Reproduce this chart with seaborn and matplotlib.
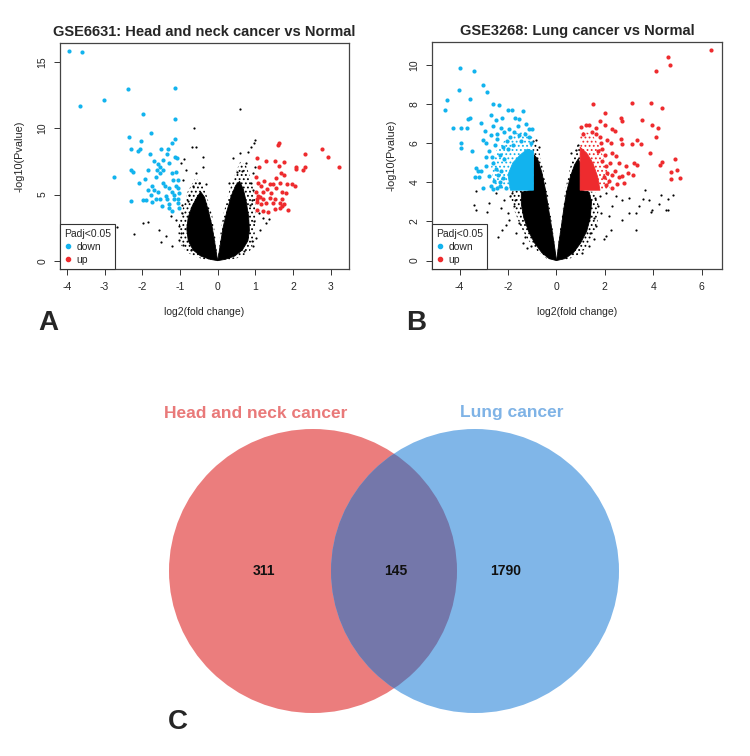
import numpy as np
import pandas as pd
import matplotlib
matplotlib.use("Agg")
import matplotlib.pyplot as plt
import seaborn as sns
from matplotlib.patches import Ellipse
from matplotlib.lines import Line2D

# ---- panel A: GSE6631 ----
a_down = [(-3.93, 15.87), (-3.61, 15.77), (-3.64, 11.70), (-3.01, 12.18), (-2.38, 12.98),
          (-1.13, 13.08), (-1.99, 11.09), (-1.13, 10.74), (-1.77, 9.69), (-2.35, 9.36),
          (-1.14, 9.18), (-2.03, 9.08), (-1.21, 8.88), (-1.33, 8.48), (-2.30, 8.48),
          (-2.05, 8.48), (-2.10, 8.28), (-1.51, 8.43), (-1.34, 8.08), (-1.80, 8.03),
          (-1.13, 7.87), (-1.08, 7.77), (-1.68, 7.52), (-1.57, 7.32), (-1.46, 7.62),
          (-1.29, 7.37), (-1.52, 7.12), (-1.86, 6.87), (-1.62, 6.82), (-1.45, 6.82),
          (-2.30, 6.82), (-2.24, 6.72), (-1.21, 6.62), (-1.11, 6.74), (-2.76, 6.31),
          (-1.64, 6.36), (-1.52, 6.62), (-1.92, 6.21), (-1.18, 6.11), (-1.05, 6.11),
          (-2.08, 5.86), (-1.44, 5.91), (-1.73, 5.61), (-1.39, 5.61), (-1.84, 5.36),
          (-1.68, 5.31), (-1.29, 5.46), (-1.11, 5.61), (-1.04, 5.46), (-1.59, 5.16),
          (-1.20, 5.16), (-1.77, 4.98), (-1.37, 4.91), (-1.15, 4.96), (-1.02, 5.11),
          (-1.99, 4.60), (-1.91, 4.60), (-1.64, 4.65), (-1.52, 4.65), (-2.31, 4.50),
          (-1.34, 4.70), (-1.15, 4.70), (-1.04, 4.70), (-1.73, 4.40), (-1.29, 4.30),
          (-1.06, 4.35), (-1.48, 4.10), (-1.29, 3.95), (-1.22, 3.75), (-1.02, 3.97)]
a_up = [(3.21, 7.12), (2.93, 7.82), (2.76, 8.45), (2.31, 8.10), (2.32, 7.12), (2.26, 6.82),
        (2.07, 7.07), (2.08, 6.92), (1.60, 8.78), (1.62, 8.88), (1.05, 7.75), (1.29, 7.57),
        (1.51, 7.50), (1.75, 7.47), (1.62, 7.17), (1.10, 7.12), (1.69, 6.62), (1.77, 6.47),
        (1.02, 6.31), (1.55, 6.24), (1.24, 5.99), (1.06, 5.86), (1.39, 5.81), (1.46, 5.81),
        (1.66, 5.86), (1.84, 5.81), (1.96, 5.81), (2.05, 5.61), (1.15, 5.61), (1.30, 5.41),
        (1.55, 5.48), (1.02, 5.16), (1.20, 5.16), (1.42, 5.11), (1.70, 5.16), (1.82, 5.11),
        (1.06, 4.91), (1.12, 4.80), (1.05, 4.70), (1.20, 4.65), (1.39, 4.73), (1.53, 4.65),
        (1.71, 4.70), (1.04, 4.40), (1.14, 4.30), (1.29, 4.35), (1.46, 4.35), (1.66, 4.35),
        (1.77, 4.30), (1.53, 3.90), (1.66, 3.95), (1.87, 3.85), (1.04, 3.85), (1.20, 3.75),
        (1.33, 3.70), (1.71, 4.10)]
a_ns = [(0.58, 11.45), (-0.64, 10.01), (-0.68, 8.63), (-0.58, 8.63), (0.98, 9.13),
        (0.95, 8.88), (0.89, 8.63), (0.80, 8.25), (0.58, 8.13), (0.40, 7.75), (-0.40, 7.87),
        (-0.89, 7.67), (-0.98, 7.37), (-0.40, 7.12), (0.75, 7.37), (0.98, 7.12), (-0.84, 6.87),
        (-0.58, 6.62), (0.93, 6.62), (-0.91, 6.11), (-0.66, 5.61), (1.09, 3.60), (1.20, 3.22),
        (1.37, 3.14), (1.29, 2.84), (-1.99, 2.84), (-1.84, 2.89), (-2.66, 2.52), (-2.22, 2.01),
        (-1.55, 2.34), (-1.37, 1.84), (-1.49, 1.38), (-1.20, 1.08), (-1.02, 1.58), (-1.24, 3.35),
        (-1.11, 3.09), (0.93, 1.08), (1.02, 1.71), (1.11, 2.34), (-1.02, 2.59), (-0.95, 3.60),
        (0.91, 4.60), (0.93, 5.36), (0.89, 5.86), (-0.75, 5.0), (-0.8, 4.5), (-0.95, 4.2),
        (-0.98, 2.1), (-0.92, 1.2), (-0.7, 0.8), (0.95, 3.0), (0.9, 1.5), (0.7, 0.7),
        (0.65, 6.8), (0.5, 6.7), (-0.5, 5.9), (-0.3, 5.8), (0.3, 5.9), (0.85, 4.2)]
# outline of the dense cloud of non-significant genes: solid core and speckled fringe
a_core = [[(0, 0), (-0.2, 0.1), (-0.45, 0.35), (-0.65, 0.8), (-0.78, 1.5), (-0.82, 2.4),
           (-0.78, 3.3), (-0.68, 4.1), (-0.55, 4.8), (-0.45, 5.2), (-0.35, 4.8), (-0.25, 3.8),
           (-0.15, 2.6), (-0.08, 1.4), (-0.03, 0.5)],
          [(0, 0), (0.03, 0.5), (0.08, 1.4), (0.15, 2.6), (0.25, 3.8), (0.36, 4.9), (0.48, 5.7),
           (0.58, 6.0), (0.68, 5.4), (0.76, 4.4), (0.82, 3.3), (0.84, 2.3), (0.8, 1.5),
           (0.65, 0.8), (0.45, 0.35), (0.2, 0.1)]]
a_fringe = [[(0, 0), (-0.3, 0.05), (-0.6, 0.3), (-0.85, 0.7), (-1.0, 1.3), (-1.05, 2.2),
             (-1.0, 3.2), (-0.9, 4.2), (-0.8, 5.2), (-0.6, 6.2), (-0.45, 6.0), (-0.3, 5.0),
             (-0.15, 3.5), (-0.06, 1.8), (-0.02, 0.5)],
            [(0, 0), (0.02, 0.5), (0.06, 1.8), (0.15, 3.5), (0.3, 5.2), (0.45, 6.5), (0.6, 7.5),
             (0.75, 7.2), (0.9, 6.0), (1.0, 4.5), (1.0, 2.8), (0.97, 1.5), (0.85, 0.7),
             (0.6, 0.25), (0.3, 0.05)]]

# ---- panel B: GSE3268 ----
b_down = [(-4.61, 7.68), (-4.53, 8.21), (-4.04, 8.75), (-4.00, 9.83), (-3.40, 9.69),
          (-4.29, 6.79), (-3.95, 6.79), (-3.71, 6.79), (-3.58, 7.27), (-3.66, 7.22),
          (-3.56, 8.24), (-3.03, 8.98), (-2.86, 8.62), (-3.93, 6.02), (-3.95, 5.77),
          (-3.47, 5.60), (-3.33, 4.74), (-3.26, 4.57), (-3.36, 4.28), (-3.19, 4.28),
          (-3.03, 3.72), (-3.12, 7.05), (-2.94, 6.62), (-2.64, 8.02), (-2.39, 7.94),
          (-2.71, 7.47), (-2.50, 7.18), (-2.02, 7.70), (-1.84, 7.70), (-1.38, 7.63),
          (-1.54, 7.25), (-2.26, 7.30), (-1.95, 6.71), (-1.13, 6.74), (-0.99, 6.74),
          (-3.03, 6.19), (-2.92, 6.02), (-2.92, 4.83), (-2.78, 4.32), (-2.71, 3.81),
          (-2.57, 4.06), (-2.34, 4.01), (-2.34, 3.81), (-2.6, 6.9), (-2.45, 6.5),
          (-2.3, 6.8), (-2.15, 6.6), (-1.75, 6.6), (-1.6, 6.9), (-1.25, 7.0), (-1.7, 7.3),
          (-2.8, 5.6), (-2.65, 5.3), (-2.55, 5.9), (-2.45, 6.2), (-2.35, 5.4), (-2.2, 5.8),
          (-2.05, 6.1), (-1.9, 6.3), (-1.55, 6.4), (-1.3, 6.5), (-1.15, 6.3), (-2.5, 4.7),
          (-2.4, 4.4), (-2.6, 5.0), (-3.1, 4.6), (-2.9, 5.3), (-2.7, 6.4), (-1.8, 5.9),
          (-2.1, 3.7), (-2.2, 4.2), (-2.45, 3.7), (-2.6, 3.65), (-2.3, 4.6), (-2.15, 5.2),
          (-1.05, 6.0), (-1.45, 6.1), (-2.0, 5.7)]
b_up = [(6.40, 10.77), (4.61, 10.43), (4.10, 9.69), (4.68, 9.98), (1.53, 8.02), (3.89, 8.07),
        (3.11, 8.07), (4.37, 7.78), (2.01, 7.56), (1.79, 7.13), (3.55, 7.18), (2.65, 7.30),
        (2.70, 7.13), (3.93, 6.91), (4.18, 6.79), (2.28, 6.71), (2.42, 6.62), (1.00, 6.84),
        (1.24, 6.96), (1.35, 6.96), (1.62, 6.79), (2.01, 6.91), (2.65, 6.23), (4.12, 6.33),
        (2.70, 5.94), (3.14, 5.94), (3.34, 6.19), (3.51, 5.94), (3.88, 5.51), (2.31, 5.51),
        (2.45, 5.34), (3.22, 5.00), (3.34, 4.88), (4.26, 4.91), (4.37, 5.03), (4.90, 5.20),
        (4.97, 4.62), (4.73, 4.52), (5.09, 4.23), (4.73, 4.15), (2.97, 4.49), (3.16, 4.40),
        (2.70, 4.32), (2.89, 4.86), (2.59, 4.97), (2.79, 3.98), (2.17, 4.06), (2.06, 3.89),
        (2.31, 4.40), (2.04, 4.83), (1.90, 5.09), (2.24, 6.02), (2.10, 6.19), (1.8, 6.3),
        (1.65, 6.5), (1.45, 6.6), (1.9, 5.7), (2.0, 5.4), (2.2, 5.0), (2.4, 4.6), (2.5, 3.9),
        (2.3, 3.7), (1.85, 6.0), (1.7, 5.6), (1.1, 6.5), (2.6, 4.3), (2.1, 4.5), (1.95, 4.3)]
b_ns = [(-0.96, 6.11), (-3.33, 3.55), (-3.40, 2.82), (-3.33, 2.61), (-2.78, 2.95),
        (-2.85, 2.47), (-2.42, 1.21), (-2.23, 1.59), (-2.02, 2.44), (-2.16, 3.12),
        (-1.95, 2.10), (-1.68, 1.42), (-1.40, 0.90), (-1.20, 0.65), (-1.06, 0.73),
        (-2.50, 3.46), (-1.82, 3.46), (-0.85, 6.19), (0.80, 5.68), (2.04, 3.46), (2.45, 3.29),
        (2.72, 3.12), (3.00, 3.21), (3.27, 2.44), (3.41, 2.78), (3.66, 3.63), (3.59, 3.16),
        (3.82, 3.12), (3.96, 2.61), (4.24, 2.87), (4.31, 3.38), (4.62, 3.17), (4.83, 3.36),
        (4.51, 2.61), (4.59, 2.58), (3.91, 2.47), (3.27, 1.55), (2.24, 1.59), (2.04, 1.25),
        (1.97, 1.08), (2.17, 2.27), (1.83, 2.44), (1.62, 1.76), (1.55, 1.08), (2.72, 2.10),
        (3.00, 2.44), (1.35, 0.73), (1.07, 0.39), (-1.9, 3.3), (-1.75, 2.8), (-1.7, 3.1),
        (-1.55, 1.9), (-1.3, 1.2), (1.6, 3.2), (1.7, 2.8), (1.55, 2.2), (1.4, 1.4),
        (1.8, 3.3), (2.3, 2.8), (-2.3, 2.7), (-2.1, 1.8), (0.9, 5.9), (0.6, 5.5), (-0.7, 5.8)]
b_core = [[(0, 0), (-0.3, 0.1), (-0.6, 0.4), (-0.9, 0.9), (-1.15, 1.5), (-1.35, 2.2),
           (-1.45, 2.9), (-1.45, 3.5), (-1.0, 3.6), (-0.95, 4.6), (-0.92, 5.4), (-0.78, 5.2),
           (-0.6, 4.5), (-0.45, 3.6), (-0.32, 2.6), (-0.2, 1.7), (-0.1, 0.9), (-0.03, 0.3)],
          [(0, 0), (0.04, 0.3), (0.1, 0.9), (0.2, 1.7), (0.3, 2.6), (0.42, 3.5), (0.58, 4.3),
           (0.75, 4.9), (0.9, 5.2), (0.98, 5.0), (0.98, 3.6), (1.35, 3.5), (1.45, 3.0),
           (1.4, 2.2), (1.25, 1.5), (1.0, 0.9), (0.7, 0.4), (0.35, 0.1)]]
b_fringe = [[(0, 0), (-0.4, 0.1), (-0.8, 0.5), (-1.2, 1.1), (-1.5, 1.8), (-1.75, 2.6),
             (-1.9, 3.3), (-1.8, 3.6), (-1.0, 3.6), (-0.98, 6.0), (-0.8, 6.0), (-0.6, 5.0),
             (-0.4, 3.8), (-0.25, 2.5), (-0.12, 1.3), (-0.03, 0.4)],
            [(0, 0), (0.03, 0.4), (0.12, 1.3), (0.25, 2.5), (0.38, 3.7), (0.55, 4.7),
             (0.75, 5.5), (0.9, 6.0), (0.98, 5.8), (0.98, 3.6), (1.6, 3.5), (1.75, 2.8),
             (1.7, 2.0), (1.5, 1.2), (1.2, 0.6), (0.8, 0.2), (0.4, 0.05)]]
b_down_core = [(-1.9, 3.6), (-0.95, 3.6), (-0.95, 5.6), (-1.2, 5.7), (-1.5, 5.4),
               (-1.8, 5.0), (-2.0, 4.4)]
b_down_fringe = [(-2.4, 3.6), (-0.95, 3.6), (-0.95, 6.3), (-1.3, 6.6), (-1.7, 6.5),
                 (-2.1, 6.2), (-2.5, 5.6), (-2.7, 4.8), (-2.6, 4.0)]
b_up_core = [(0.98, 3.6), (1.8, 3.6), (1.7, 4.3), (1.5, 5.0), (1.25, 5.5), (0.98, 5.8)]
b_up_fringe = [(0.98, 3.6), (2.2, 3.6), (2.2, 4.2), (2.0, 5.0), (1.8, 5.8), (1.5, 6.4),
               (1.2, 6.6), (0.98, 6.6)]

# ---- panel C: Venn ----
venn_sets = ["Head and neck cancer", "Lung cancer"]
venn_counts = [311, 145, 1790]   # only HNC, both, only lung

BLUE = "#12B3EE"
RED = "#EE2B2E"


def to_df(points):
    return pd.DataFrame(points, columns=["lfc", "logp"])


def fill_poly(ax, poly, col, speckled, z):
    xs, ys = zip(*poly)
    if speckled:
        ax.fill(xs, ys, facecolor="none", edgecolor=col, hatch="....", lw=0, zorder=z)
    else:
        ax.fill(xs, ys, color=col, lw=0.6, zorder=z)


def volcano(ax, title, down, up, ns, core, fringe, col_polys, xticks, yticks, xlim, ylim):
    for poly in fringe:
        fill_poly(ax, poly, "black", True, 2)
    for poly in core:
        fill_poly(ax, poly, "black", False, 2)
    sns.scatterplot(data=to_df(ns), x="lfc", y="logp", color="black", s=2.5,
                    linewidth=0, ax=ax, zorder=3, legend=False)
    for poly, col, speckled in col_polys:
        fill_poly(ax, poly, col, speckled, 4)
    sns.scatterplot(data=to_df(down), x="lfc", y="logp", color=BLUE, s=9,
                    linewidth=0, ax=ax, zorder=5, legend=False)
    sns.scatterplot(data=to_df(up), x="lfc", y="logp", color=RED, s=9,
                    linewidth=0, ax=ax, zorder=5, legend=False)
    ax.set_xlim(*xlim)
    ax.set_ylim(*ylim)
    ax.set_xticks(xticks)
    ax.set_yticks(yticks)
    ax.set_xticklabels([str(t) for t in xticks], fontsize=7.5)
    ax.set_yticklabels([str(t) for t in yticks], fontsize=7.5, rotation=90, va="center")
    ax.tick_params(axis="both", direction="out", length=4, width=0.7, pad=5,
                   left=True, bottom=True, color="#333333")
    for sp in ax.spines.values():
        sp.set_visible(True)
        sp.set_color("#444444")
        sp.set_linewidth(0.9)
    ax.set_xlabel("log2(fold change)", fontsize=7.5, labelpad=11)
    ax.set_ylabel("-log10(Pvalue)", fontsize=7.8, labelpad=9)
    ax.set_title(title, fontsize=10.5, fontweight="bold", pad=5)
    handles = [Line2D([], [], ls="", marker="o", ms=3, color=BLUE),
               Line2D([], [], ls="", marker="o", ms=3, color=RED)]
    leg = ax.legend(handles, ["down", "up"], title="Padj<0.05", loc="lower left",
                    borderaxespad=0, fancybox=False, edgecolor="#333333", framealpha=1,
                    fontsize=7.5, title_fontsize=7.5, handlelength=0.8, handletextpad=0.4,
                    borderpad=0.4, labelspacing=0.3, alignment="left")
    leg.get_frame().set_linewidth(0.8)
    leg.set_zorder(10)


sns.set_style("white")
plt.rcParams["font.family"] = ["Liberation Sans", "DejaVu Sans"]
plt.rcParams["hatch.linewidth"] = 0.8

fig = plt.figure(figsize=(7.5, 7.56), dpi=100)

# overlay axes in pixel units for the Venn and panel letters
ov = fig.add_axes([0, 0, 1, 1], zorder=0)
ov.set_xlim(0, 750)
ov.set_ylim(756, 0)
ov.axis("off")

axA = fig.add_axes([60 / 750, 1 - 269 / 756, 289 / 750, 226 / 756], zorder=1)
volcano(axA, "GSE6631: Head and neck cancer vs Normal", a_down, a_up, a_ns,
        a_core, a_fringe, [], list(range(-4, 4)), [0, 5, 10, 15],
        (-4.18, 3.48), (-0.63, 16.46))

axB = fig.add_axes([432 / 750, 1 - 269 / 756, 290 / 750, 227 / 756], zorder=1)
volcano(axB, "GSE3268: Lung cancer vs Normal", b_down, b_up, b_ns,
        b_core, b_fringe,
        [(b_down_fringe, BLUE, True), (b_up_fringe, RED, True),
         (b_down_core, BLUE, False), (b_up_core, RED, False)],
        [-4, -2, 0, 2, 4, 6], [0, 2, 4, 6, 8, 10], (-5.14, 6.84), (-0.43, 11.18))

# Venn diagram
left = Ellipse((313, 571), 288, 284, color="#EB7D7D", lw=0)
right = Ellipse((475, 571), 288, 284, color="#80B6E8", lw=0)
ov.add_patch(left)
ov.add_patch(right)
lens = Ellipse((313, 571), 288, 284, color="#7477AA", lw=0)
ov.add_patch(lens)
lens.set_clip_path(right)

ov.text(256, 413, venn_sets[0], color="#E97979", fontsize=12.5, ha="center", va="center",
        fontweight="bold")
ov.text(512, 413, venn_sets[1], color="#7FB3E6", fontsize=12.5, ha="center", va="center",
        fontweight="bold")
for xpos, cnt in zip([264, 396, 506], venn_counts):
    ov.text(xpos, 571, str(cnt), fontsize=10, ha="center", va="center", color="#111111",
            fontweight="bold")

for letter, xpos, ypos in [("A", 48, 323), ("B", 416, 323), ("C", 178, 722)]:
    ov.text(xpos, ypos, letter, fontsize=20, fontweight="bold", ha="center", va="center")

fig.savefig("out.png", dpi=100)
